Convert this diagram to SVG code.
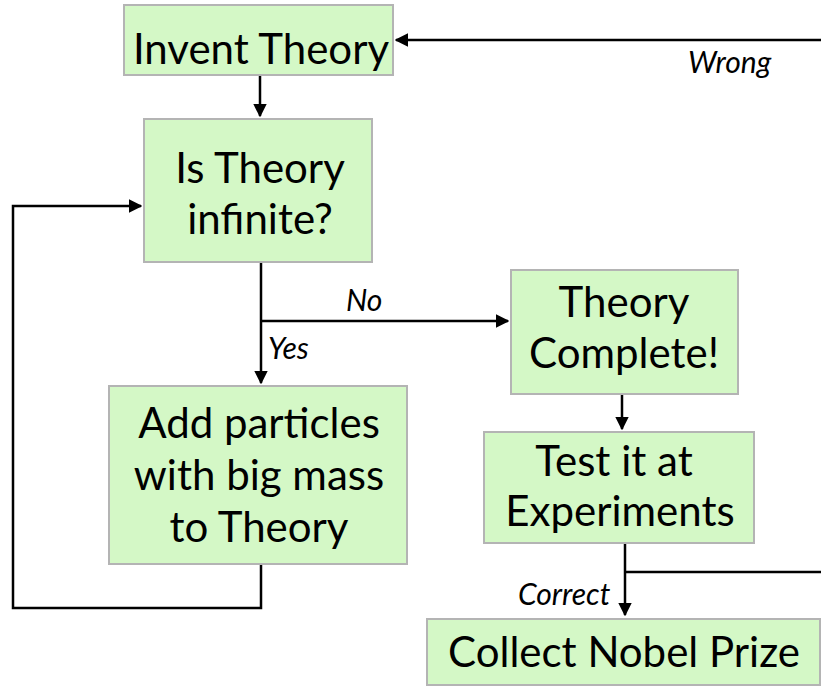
<svg xmlns="http://www.w3.org/2000/svg" width="821" height="686" viewBox="0 0 821 686">
<style>
.box{fill:#d4f8c6;stroke:#b4b4b4;stroke-width:2}
.t{font-family:Lato,"Open Sans","Liberation Sans",sans-serif;font-size:42px;fill:#000;text-anchor:middle}
.l{font-family:Lato,"Open Sans","Liberation Sans",sans-serif;font-size:30px;font-style:italic;fill:#000}
.c{fill:none;stroke:#000;stroke-width:2.5}
</style>
<defs>
<marker id="ah" viewBox="0 0 10 10" refX="9" refY="5" markerWidth="5.5" markerHeight="5.5" orient="auto" markerUnits="strokeWidth">
<path d="M0,0 L10,5 L0,10 z" fill="#000"/>
</marker>
</defs>
<rect width="821" height="686" fill="#fff"/>
<g id="connectors">
<path class="c" d="M260,76 V116" marker-end="url(#ah)"/>
<path class="c" d="M261,262 V383" marker-end="url(#ah)"/>
<path class="c" d="M261,321 H508" marker-end="url(#ah)"/>
<path class="c" d="M261,564 V608 H13 V206 H141" marker-end="url(#ah)"/>
<path class="c" d="M622,395 V429" marker-end="url(#ah)"/>
<path class="c" d="M625,543 V615" marker-end="url(#ah)"/>
<path class="c" d="M625,572 H821"/>
<path class="c" d="M821,40 H396" marker-end="url(#ah)"/>
<text class="l" x="346" y="311">No</text>
<text class="l" x="268" y="359">Yes</text>
<text class="l" x="518" y="605">Correct</text>
<text class="l" x="688" y="73">Wrong</text>
</g>
<g id="invent">
<rect class="box" x="124" y="5" width="269" height="70"/>
<text class="t" x="261" y="64">Invent Theory</text>
</g>
<g id="infinite">
<rect class="box" x="144" y="119" width="228" height="143"/>
<text class="t" x="260" y="183">Is Theory</text>
<text class="t" x="260" y="234">infinite?</text>
</g>
<g id="add">
<rect class="box" x="109" y="386" width="298" height="178"/>
<text class="t" x="259" y="438">Add particles</text>
<text class="t" x="259" y="490">with big mass</text>
<text class="t" x="259" y="542">to Theory</text>
</g>
<g id="complete">
<rect class="box" x="511" y="270" width="227" height="124"/>
<text class="t" x="624" y="317">Theory</text>
<text class="t" x="624" y="368">Complete!</text>
</g>
<g id="test">
<rect class="box" x="484" y="432" width="270" height="111"/>
<text class="t" x="614" y="476">Test it at</text>
<text class="t" x="620" y="526">Experiments</text>
</g>
<g id="nobel">
<rect class="box" x="427" y="619" width="393" height="66"/>
<text class="t" x="624" y="667">Collect Nobel Prize</text>
</g>
</svg>
